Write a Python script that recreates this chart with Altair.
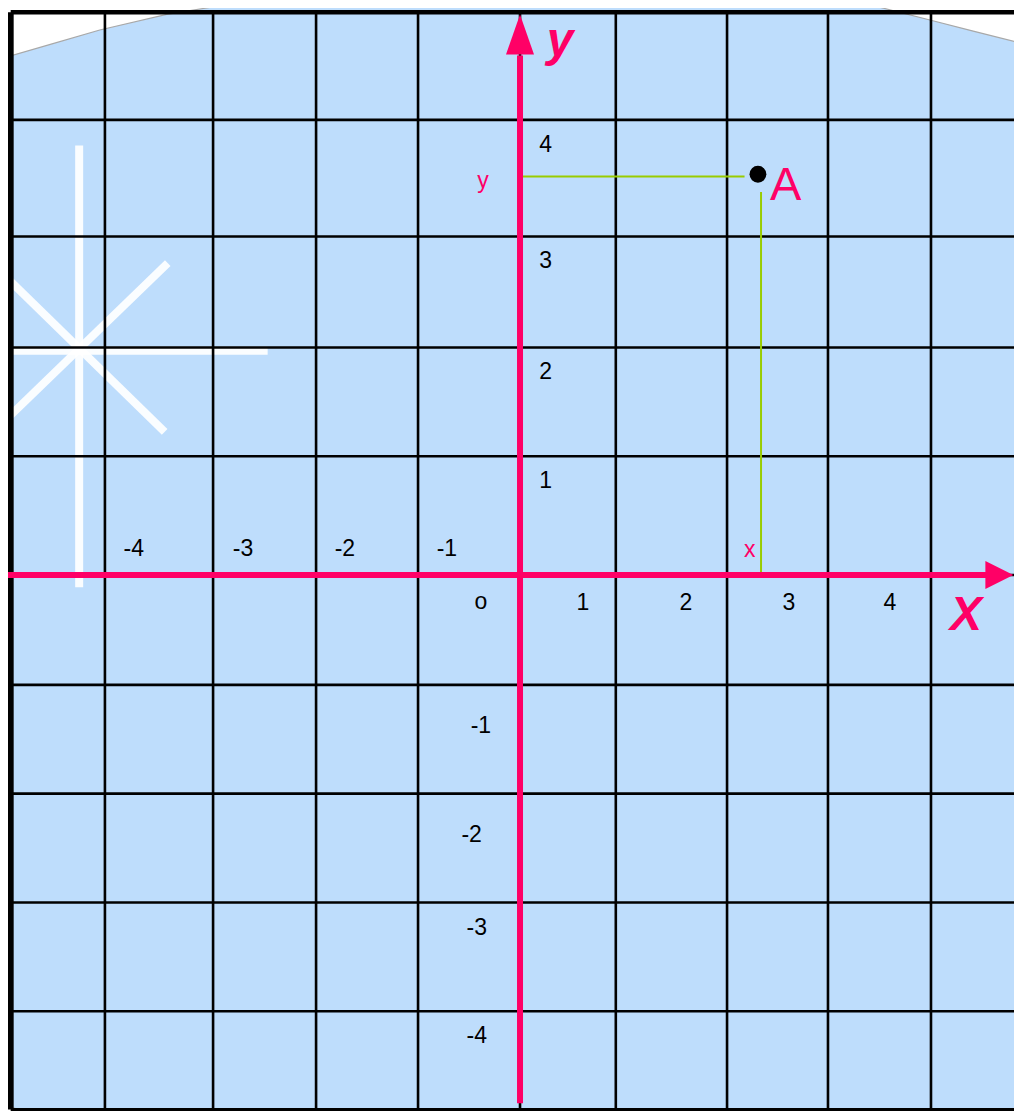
import altair as alt
import pandas as pd

# ---------------- data (grid units; origin = axes crossing) ----------------
X_RANGE = [-4.971, 4.796]      # visible extent of the sheet
Y_RANGE = [-4.829, 5.108]

GRID_X = [-4.03, -2.98, -1.98, -0.99, 0.0, 0.93, 2.01, 2.99, 3.99]
GRID_Y = [4.10, 3.05, 2.05, 1.07, 0.0, -0.99, -1.97, -2.95, -3.93]
GRID_TOP, GRID_BOTTOM = 5.07, -4.815
GRID_LEFT, GRID_RIGHT = -4.945, 4.874

XTICK_TEXT = ["-4", "-3", "-2", "-1", "o", "1", "2", "3", "4"]
XTICK_X = [-3.75, -2.69, -1.70, -0.71, -0.38, 0.61, 1.61, 2.61, 3.59]
XTICK_Y = [0.234, 0.234, 0.234, 0.234, -0.24, -0.25, -0.25, -0.25, -0.25]

YTICK_TEXT = ["4", "3", "2", "1", "-1", "-2", "-3", "-4"]
YTICK_X = [0.25, 0.25, 0.25, 0.25, -0.38, -0.47, -0.42, -0.42]
YTICK_Y = [3.87, 2.83, 1.83, 0.85, -1.36, -2.34, -3.18, -4.15]

AXIS_X_START, AXIS_X_TIP = -4.971, 4.79
AXIS_Y_START, AXIS_Y_TIP = -4.76, 5.05
ARROW_BASE_X, ARROW_BASE_Y = 4.55, 4.68

POINT_A = [2.31, 3.61]
PROJ_H = [0.02, 2.18, 3.59]     # x from, x to, y
PROJ_V = [2.34, 0.0, 3.45]      # x, y from, y to

LETTERS = ["A", "y", "x"]
LETTER_X = [2.58, -0.36, 2.23]
LETTER_Y = [3.38, 3.55, 0.225]

AXIS_NAMES = ["y", "X"]
AXIS_NAME_X = [0.39, 4.33]
AXIS_NAME_Y = [4.68, -0.495]

SNOW_SEG = [0, 0, 1, 1, 2, 2, 3, 3]
SNOW_I = [0, 1, 0, 1, 0, 1, 0, 1]
SNOW_X = [-4.28, -4.28, -5.05, -2.45, -5.05, -3.45, -3.42, -5.00]
SNOW_Y = [3.87, -0.11, 2.02, 2.02, 2.74, 1.29, 2.81, 1.39]

TL_X = [-5.05, -4.56, -4.08, -3.43, -2.57]
TL_Y = [4.65, 4.78, 4.91, 5.05, 5.18]
TR_X = [2.88, 3.47, 3.98, 4.40, 4.87]
TR_Y = [5.18, 5.12, 5.00, 4.90, 4.79]
BL_X = [-5.05, -4.66]
BL_Y = [-4.76, -4.88]
SHEET_TOP, SHEET_BOTTOM = 5.20, -4.95

# ---------------- styling ----------------
PINK = "#FF0066"
BLUE = "#BEDDFC"
GREEN = "#99CC00"
FONT = "Liberation Sans"

xs = alt.Scale(domain=X_RANGE, nice=False, zero=False)
ys = alt.Scale(domain=Y_RANGE, nice=False, zero=False)


def X(f="x"):
    return alt.X(f"{f}:Q", scale=xs, axis=None)


def Y(f="y"):
    return alt.Y(f"{f}:Q", scale=ys, axis=None)


# white corner patches
def patch(xv, yv, top):
    df = pd.DataFrame({"x": xv, "y": yv, "y2": [top] * len(xv)})
    area = alt.Chart(df).mark_area(color="white", opacity=1, clip=True).encode(
        x=X(), y=Y(), y2="y2:Q")
    edge = alt.Chart(df).mark_line(color="#A8A8A8", strokeWidth=1.2, clip=True).encode(
        x=X(), y=Y())
    return [area, edge]


patches = patch(TL_X, TL_Y, SHEET_TOP) + patch(TR_X, TR_Y, SHEET_TOP) + patch(BL_X, BL_Y, SHEET_BOTTOM)

snow_df = pd.DataFrame({"seg": SNOW_SEG, "i": SNOW_I, "x": SNOW_X, "y": SNOW_Y})
snow = alt.Chart(snow_df).mark_line(color="white", strokeWidth=8, opacity=0.92,
                                    strokeCap="butt", clip=True).encode(
    x=X(), y=Y(), detail="seg:N", order="i:Q")

gx_df = pd.DataFrame({"x": GRID_X, "y": [GRID_BOTTOM] * len(GRID_X), "y2": [GRID_TOP] * len(GRID_X)})
grid_v = alt.Chart(gx_df).mark_rule(color="black", strokeWidth=2.6, clip=True).encode(x=X(), y=Y(), y2="y2:Q")
gy_df = pd.DataFrame({"y": GRID_Y, "x": [GRID_LEFT] * len(GRID_Y), "x2": [GRID_RIGHT] * len(GRID_Y)})
grid_h = alt.Chart(gy_df).mark_rule(color="black", strokeWidth=2.6, clip=True).encode(y=Y(), x=X(), x2="x2:Q")

border_left = alt.Chart(pd.DataFrame({"x": [GRID_LEFT], "y": [GRID_BOTTOM], "y2": [GRID_TOP]})).mark_rule(
    color="black", strokeWidth=6, clip=True).encode(x=X(), y=Y(), y2="y2:Q")
border_tb = alt.Chart(pd.DataFrame({"y": [GRID_TOP, GRID_BOTTOM], "w": [4.5, 3.0],
                                    "x": [GRID_LEFT, GRID_LEFT], "x2": [GRID_RIGHT, GRID_RIGHT]})).mark_rule(
    color="black", clip=True).encode(y=Y(), x=X(), x2="x2:Q",
                                     strokeWidth=alt.StrokeWidth("w:Q", scale=None, legend=None))

proj_h = alt.Chart(pd.DataFrame({"x": [PROJ_H[0]], "x2": [PROJ_H[1]], "y": [PROJ_H[2]]})).mark_rule(
    color=GREEN, strokeWidth=2).encode(x=X(), x2="x2:Q", y=Y())
proj_v = alt.Chart(pd.DataFrame({"x": [PROJ_V[0]], "y": [PROJ_V[1]], "y2": [PROJ_V[2]]})).mark_rule(
    color=GREEN, strokeWidth=2).encode(x=X(), y=Y(), y2="y2:Q")

axis_x = alt.Chart(pd.DataFrame({"x": [AXIS_X_START], "x2": [ARROW_BASE_X], "y": [0.0]})).mark_rule(
    color=PINK, strokeWidth=6, clip=True).encode(x=X(), x2="x2:Q", y=Y())
axis_y = alt.Chart(pd.DataFrame({"x": [0.0], "y": [AXIS_Y_START], "y2": [ARROW_BASE_Y]})).mark_rule(
    color=PINK, strokeWidth=6).encode(x=X(), y=Y(), y2="y2:Q")

arrow_x = alt.Chart(pd.DataFrame({"x": [AXIS_X_TIP], "y": [0.0]})).mark_point(
    shape="M0,0L-2,-1L-2,1Z", size=784, filled=True, color=PINK, opacity=1, strokeWidth=0).encode(x=X(), y=Y())
arrow_y = alt.Chart(pd.DataFrame({"x": [0.0], "y": [AXIS_Y_TIP]})).mark_point(
    shape="M0,0L-1,2.86L1,2.86Z", size=784, filled=True, color=PINK, opacity=1, strokeWidth=0).encode(x=X(), y=Y())

dot = alt.Chart(pd.DataFrame({"x": [POINT_A[0]], "y": [POINT_A[1]]})).mark_point(
    shape="circle", size=283, filled=True, color="black", opacity=1, strokeWidth=0).encode(x=X(), y=Y())

xt = alt.Chart(pd.DataFrame({"t": XTICK_TEXT, "x": XTICK_X, "y": XTICK_Y})).mark_text(
    font=FONT, fontSize=23, color="black", align="center", baseline="middle").encode(x=X(), y=Y(), text="t:N")
yt = alt.Chart(pd.DataFrame({"t": YTICK_TEXT, "x": YTICK_X, "y": YTICK_Y})).mark_text(
    font=FONT, fontSize=23, color="black", align="center", baseline="middle").encode(x=X(), y=Y(), text="t:N")

label_A = alt.Chart(pd.DataFrame({"t": LETTERS[:1], "x": LETTER_X[:1], "y": LETTER_Y[:1]})).mark_text(
    font=FONT, fontSize=47, color=PINK, align="center", baseline="alphabetic").encode(x=X(), y=Y(), text="t:N")
label_xy = alt.Chart(pd.DataFrame({"t": LETTERS[1:], "x": LETTER_X[1:], "y": LETTER_Y[1:]})).mark_text(
    font=FONT, fontSize=23, color=PINK, align="center", baseline="middle").encode(x=X(), y=Y(), text="t:N")
axis_names = alt.Chart(pd.DataFrame({"t": AXIS_NAMES, "x": AXIS_NAME_X, "y": AXIS_NAME_Y})).mark_text(
    font=FONT, fontSize=48, fontWeight="bold", fontStyle="italic", color=PINK,
    align="center", baseline="alphabetic").encode(x=X(), y=Y(), text="t:N")

chart = alt.layer(
    *patches, snow, grid_v, grid_h, border_left, border_tb,
    proj_h, proj_v, axis_x, axis_y, arrow_x, arrow_y, dot,
    xt, yt, label_A, label_xy, axis_names,
).properties(
    width=1006, height=1103, padding=0, background=BLUE,
    autosize=alt.AutoSizeParams(type="none"),
).configure_view(stroke=None, fill=BLUE)

chart.save("out.html", embed_options={"renderer": "svg", "actions": False})
